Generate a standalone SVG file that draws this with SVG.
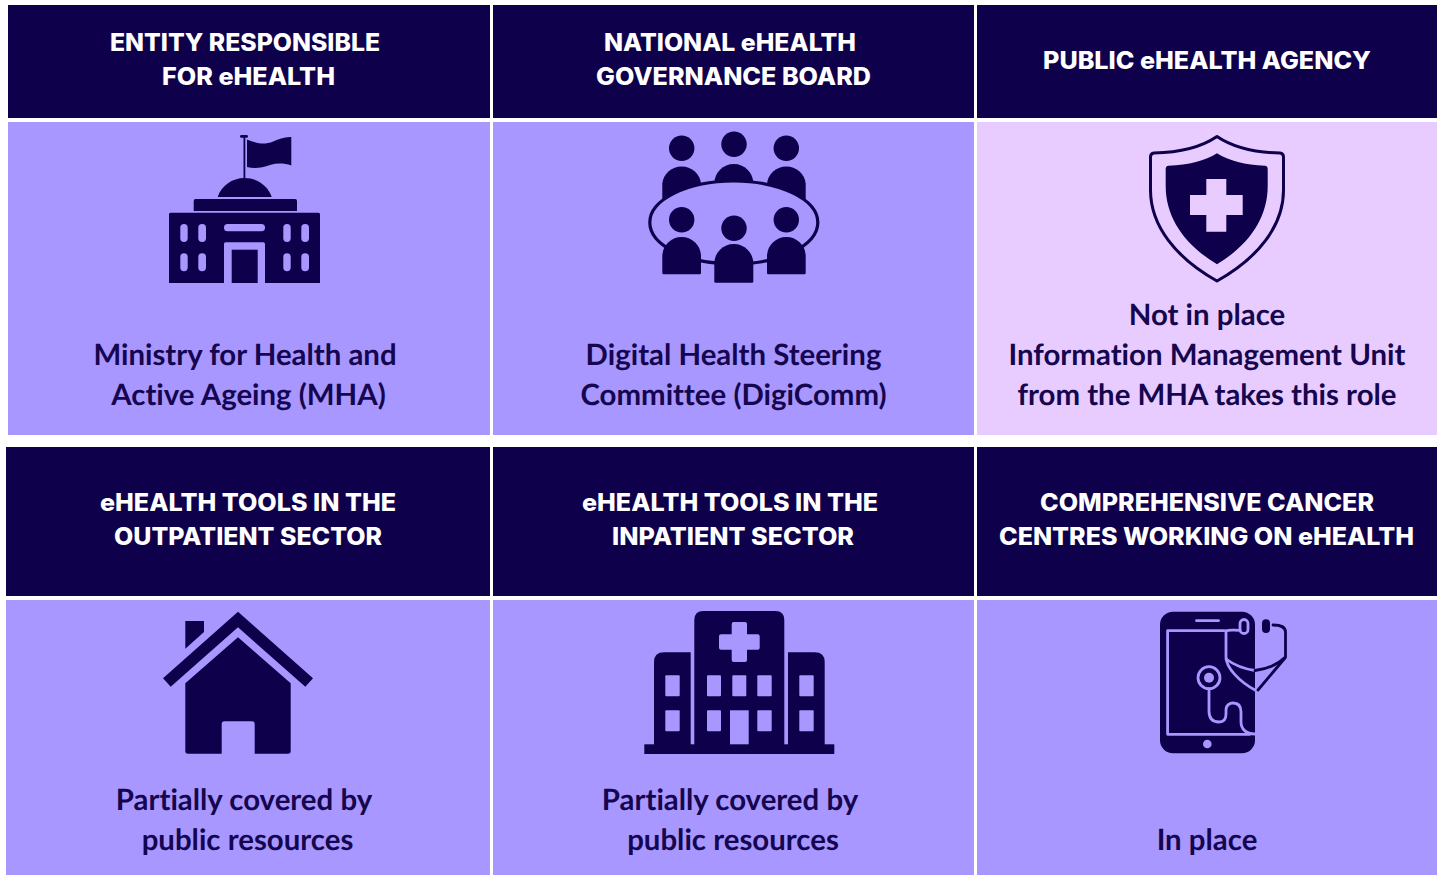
<svg xmlns="http://www.w3.org/2000/svg" width="1442" height="875" viewBox="0 0 1442 875">
<style>
.h{fill:#0f004b}
.b{fill:#a797ff}
.l{fill:#e8ccff}
.n{fill:#0f004b}
.ht{font-family:"Inter","Liberation Sans",sans-serif;font-weight:800;font-size:24px;fill:#fff;text-anchor:middle}
.bt{font-family:"Lato","Liberation Sans",sans-serif;font-weight:700;font-size:29.4px;fill:#15064f;text-anchor:middle;font-variant-ligatures:none;text-rendering:geometricPrecision}
</style>
<rect width="1442" height="875" fill="#fff"/>
<g id="node-entity">
<rect class="h" x="8" y="5" width="482" height="113"/>
<rect class="b" x="8" y="122" width="482" height="313"/>
<text class="ht" x="245" y="51" textLength="270" lengthAdjust="spacingAndGlyphs">ENTITY RESPONSIBLE</text>
<text class="ht" x="248.500" y="85" textLength="173" lengthAdjust="spacingAndGlyphs">FOR eHEALTH</text>
<g class="n">
<path d="M170.500 212.700H318.500Q320 212.700 320 214.200V283H265V244Q265 242.300 263.300 242.300H225.700Q224 242.300 224 244V283H169V214.200Q169 212.700 170.500 212.700Z"/>
<rect x="231.700" y="249.700" width="26" height="33.300"/>
<path d="M195.500 199H295.200Q297 199 297 201V211H193.700V201Q193.700 199 195.500 199Z"/>
<path d="M217.700 197C221 186 232 178 244.700 178C257 178 268 186 271.700 197Z"/>
<rect x="243.500" y="136" width="1.800" height="43"/>
<rect x="240" y="135" width="8" height="2.800" rx="1.400"/>
<path d="M247 139.500C256 143 264 145 272 142C279 139 285 136.500 291.300 137V165.500C284 163 277 163 270 165C262 168 254 169 247 167Z"/>
</g>
<g class="b">
<rect x="224" y="224" width="41" height="7.300" rx="3.600"/>
<rect x="180.300" y="224" width="7.400" height="18" rx="3.700"/><rect x="198.300" y="224" width="7.700" height="18" rx="3.700"/><rect x="283.300" y="224" width="7.400" height="18" rx="3.700"/><rect x="301.300" y="224" width="7.700" height="18" rx="3.700"/>
<rect x="180.300" y="253.300" width="7.400" height="18" rx="3.700"/><rect x="198.300" y="253.300" width="7.700" height="18" rx="3.700"/><rect x="283.300" y="253.300" width="7.400" height="18" rx="3.700"/><rect x="301.300" y="253.300" width="7.700" height="18" rx="3.700"/>
</g>
<text class="bt" x="245" y="365">Ministry for Health and</text>
<text class="bt" x="248.500" y="405">Active Ageing (MHA)</text>
</g>
<g id="node-board">
<rect class="h" x="493" y="5" width="481" height="113"/>
<rect class="b" x="493" y="122" width="481" height="313"/>
<text class="ht" x="730" y="51" textLength="252" lengthAdjust="spacingAndGlyphs">NATIONAL eHEALTH</text>
<text class="ht" x="733.500" y="85" textLength="275" lengthAdjust="spacingAndGlyphs">GOVERNANCE BOARD</text>
<g class="n">
<circle cx="681.700" cy="148.300" r="12.700"/><circle cx="734" cy="144.300" r="12.700"/><circle cx="786.300" cy="148.300" r="12.700"/>
<path d="M662.300 200V183.500A19.500 19.500 0 0 1 701 183.500V200Z"/>
<path d="M714.300 190V183.500A19.500 19.500 0 0 1 753.300 183.500V190Z"/>
<path d="M767 200V183.500A19.500 19.500 0 0 1 805.700 183.500V200Z"/>
</g>
<ellipse cx="733.800" cy="222.500" rx="84" ry="41.500" fill="#a797ff" stroke="#0f004b" stroke-width="3.200"/>
<g class="n">
<circle cx="681.700" cy="219.700" r="12.700"/><circle cx="734" cy="228.300" r="12.700"/><circle cx="786.300" cy="219.700" r="12.700"/>
<path d="M662.300 255A19.400 19.400 0 0 1 701 255V273Q701 274.300 699.700 274.300H663.600Q662.300 274.300 662.300 273Z"/>
<path d="M714.300 263.500A19.500 19.500 0 0 1 753.300 263.500V281.500Q753.300 282.700 752 282.700H715.600Q714.300 282.700 714.300 281.500Z"/>
<path d="M767 255A19.400 19.400 0 0 1 805.700 255V273Q805.700 274.300 804.400 274.300H768.300Q767 274.300 767 273Z"/>
</g>
<text class="bt" x="733.500" y="365">Digital Health Steering</text>
<text class="bt" x="733.500" y="405">Committee (DigiComm)</text>
</g>
<g id="node-agency">
<rect class="h" x="977" y="5" width="460" height="113"/>
<rect class="l" x="977" y="122" width="460" height="313"/>
<text class="ht" x="1207" y="69" textLength="328" lengthAdjust="spacingAndGlyphs">PUBLIC eHEALTH AGENCY</text>
<path d="M1217 136.500C1231 146 1253 152.500 1280 153Q1283.500 153.500 1283.500 157V190C1283.500 226 1258 258 1217 281C1176 258 1150.500 226 1150.500 190V157Q1150.500 153.500 1154 153C1181 152.500 1203 146 1217 136.500Z" fill="none" stroke="#0f004b" stroke-width="3" stroke-linejoin="round"/>
<path class="n" d="M1217 153.300C1229 161 1245 165 1265 165.700Q1267.700 166 1267.700 169V186C1267.700 218 1249 245 1217 264.300C1185 245 1165.700 218 1165.700 186V169Q1165.700 166 1168.500 165.700C1189 165 1205 161 1217 153.300Z"/>
<path class="l" d="M1206.300 179H1226.300V195H1242.700V215H1226.300V231.700H1206.300V215H1190V195H1206.300Z"/>
<text class="bt" x="1207" y="325">Not in place</text>
<text class="bt" x="1207" y="365">Information Management Unit</text>
<text class="bt" x="1207" y="405">from the MHA takes this role</text>
</g>
<g id="node-outpatient">
<rect class="h" x="6" y="447" width="484" height="149"/>
<rect class="b" x="6" y="600" width="484" height="275"/>
<text class="ht" x="248" y="511" textLength="296" lengthAdjust="spacingAndGlyphs">eHEALTH TOOLS IN THE</text>
<text class="ht" x="248" y="545" textLength="268" lengthAdjust="spacingAndGlyphs">OUTPATIENT SECTOR</text>
<g class="n">
<path d="M238 611.700L313 678.300L305.300 686.700L238 627.300L170.700 686.700L163 678.300Z"/>
<path d="M185.300 621H204V632L185.300 648.700Z"/>
<path d="M238 637.300L290.700 683.300V751Q290.700 753.700 288 753.700H254.700V724Q254.700 721.300 252 721.300H224.400Q221.700 721.300 221.700 724V753.700H188Q185.300 753.700 185.300 751V683.300Z"/>
</g>
<text class="bt" x="244" y="810">Partially covered by</text>
<text class="bt" x="247.500" y="850">public resources</text>
</g>
<g id="node-inpatient">
<rect class="h" x="493" y="447" width="481" height="149"/>
<rect class="b" x="493" y="600" width="481" height="275"/>
<text class="ht" x="730" y="511" textLength="296" lengthAdjust="spacingAndGlyphs">eHEALTH TOOLS IN THE</text>
<text class="ht" x="733" y="545" textLength="242" lengthAdjust="spacingAndGlyphs">INPATIENT SECTOR</text>
<g class="n">
<rect x="644.300" y="744.300" width="190" height="9.700"/>
<path d="M654 746V662Q654 652.300 664 652.300H690.700V746Z"/>
<path d="M788 746V652.300H814.700Q824.700 652.300 824.700 662V746Z"/>
<path d="M694.300 746V620Q694.300 611 703.300 611H775.300Q784.300 611 784.300 620V746Z"/>
</g>
<g class="b">
<path d="M733.700 622H745Q747 622 747 624V634.300H757.700Q759.700 634.300 759.700 636.300V647.700Q759.700 649.700 757.700 649.700H747V660Q747 662 745 662H733.700Q731.700 662 731.700 660V649.700H721Q719 649.700 719 647.700V636.300Q719 634.300 721 634.300H731.700V624Q731.700 622 733.700 622Z"/>
<rect x="665.300" y="675.300" width="14.400" height="21" rx="1"/><rect x="707" y="675.300" width="14" height="21" rx="1"/><rect x="732.300" y="675.300" width="14" height="21" rx="1"/><rect x="757.300" y="675.300" width="14.400" height="21" rx="1"/><rect x="799.300" y="675.300" width="14.400" height="21" rx="1"/>
<rect x="665.300" y="710.300" width="14.400" height="21" rx="1"/><rect x="707" y="710.300" width="14" height="21" rx="1"/><rect x="730" y="710.300" width="18.700" height="34"/><rect x="757.300" y="710.300" width="14.400" height="21" rx="1"/><rect x="799.300" y="710.300" width="14.400" height="21" rx="1"/>
</g>
<text class="bt" x="730" y="810">Partially covered by</text>
<text class="bt" x="733" y="850">public resources</text>
</g>
<g id="node-centres">
<rect class="h" x="977" y="447" width="460" height="149"/>
<rect class="b" x="977" y="600" width="460" height="275"/>
<text class="ht" x="1207" y="511" textLength="334" lengthAdjust="spacingAndGlyphs">COMPREHENSIVE CANCER</text>
<text class="ht" x="1206.500" y="545" textLength="415" lengthAdjust="spacingAndGlyphs">CENTRES WORKING ON eHEALTH</text>
<rect class="n" x="1160" y="611.700" width="95" height="141.600" rx="13"/>
<g fill="none" stroke="#a797ff" stroke-width="2.800" stroke-linecap="round" stroke-linejoin="round">
<path d="M1224 630.700H1167.600V734.300H1250"/>
<path d="M1196.500 620.700H1218.500"/>
<circle cx="1209" cy="677.700" r="11"/>
<path d="M1209 689V711C1209 720 1214 722 1219 722C1224 722 1226 719 1226 714V710C1226 705 1230 703 1233 703C1238 703 1241 706 1241 712V722C1241 729 1246 734 1255 734"/>
<path d="M1226 631V657C1226 668 1240 682 1255 690"/>
<path d="M1226 659C1234 665 1245 669 1255 670.500"/>
<rect x="1240" y="619.500" width="8" height="14" rx="4"/>
<path d="M1226 631C1230 629 1238 631 1240 630"/>
</g>
<circle cx="1209" cy="677.700" r="5" fill="#a797ff"/>
<circle cx="1207.300" cy="744" r="4.300" fill="#a797ff"/>
<g fill="none" stroke="#0f004b" stroke-width="2.800" stroke-linecap="round" stroke-linejoin="round">
<path d="M1255 670.500C1265 669.500 1277 665 1285.500 657V632C1285.500 627 1280 625 1273 625"/>
<path d="M1285 658L1258 690"/>
</g>
<rect class="n" x="1262" y="619.300" width="8" height="13.700" rx="4"/>
<text class="bt" x="1207" y="850">In place</text>
</g>
<g id="connectors"></g>
</svg>
